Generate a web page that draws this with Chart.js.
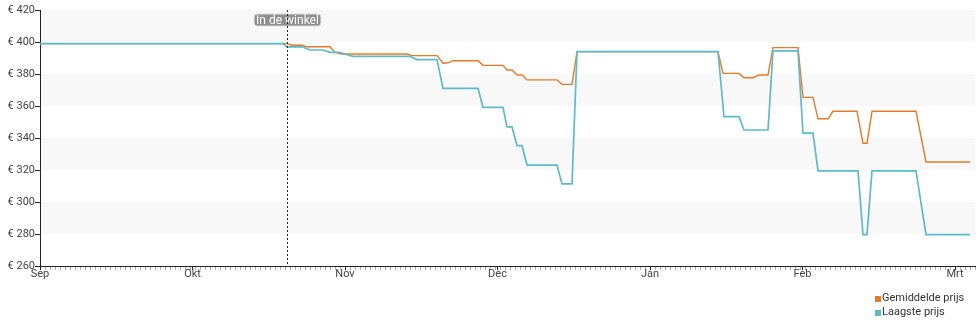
<!DOCTYPE html>
<html>
<head>
<meta charset="utf-8">
<script src="https://cdn.jsdelivr.net/npm/chart.js@4/dist/chart.umd.min.js"></script>
<style>
  html, body { margin: 0; padding: 0; background: #fff; }
  #wrap { position: relative; width: 980px; height: 325px; }
  #legend { position: absolute; left: 875px; top: 291px; font: 11px Roboto, sans-serif; color: #333; line-height: 13.5px; }
  #legend div { white-space: nowrap; }
  #legend span.box { display: inline-block; width: 6px; height: 6px; margin-right: 1px; vertical-align: -1px; }
</style>
</head>
<body>
<div id="wrap">
  <canvas id="c" width="980" height="325"></canvas>
  <div id="legend"></div>
</div>
<script>
// ---- data (x = days since 1 Sep, equal-width months of 30.5 days) ----
const monthTicks  = [0, 30.5, 61, 91.5, 122, 152.5, 183];
const monthLabels = ['Sep', 'Okt', 'Nov', 'Dec', 'Jan', 'Feb', 'Mrt'];
const priceTicks  = [260, 280, 300, 320, 340, 360, 380, 400, 420];

const avgDays   = [0, 49.4, 50.4, 52.4, 53.4, 58, 59, 60.4, 73.4, 74.4, 79.4, 80.6, 81.6, 82.6, 87.6, 88.6, 92.6, 93.4, 94.4, 95.4, 96.4, 97.4, 103.4, 104.4, 106.4, 107.4, 135.6, 136.6, 139.8, 140.8, 142.6, 143.8, 145.6, 146.6, 151.6, 152.6, 154.6, 155.6, 157.6, 158.6, 163.4, 164.6, 165.4, 166.4, 175.2, 177.2, 186];
const avgPrices = [399, 399, 398, 398, 397, 397, 393.5, 392.5, 392.5, 391.5, 391.5, 386.7, 387, 388.3, 388.3, 385.4, 385.4, 382.5, 382.5, 379.4, 379.4, 376.3, 376.3, 373.5, 373.5, 394, 394, 380.4, 380.4, 377.7, 377.7, 379.4, 379.4, 396.5, 396.5, 365.4, 365.4, 352, 352, 356.7, 356.7, 336.7, 336.7, 356.7, 356.7, 325, 325];

const lowDays   = [0, 48.6, 49.4, 52.4, 54, 56.6, 58, 60, 61.4, 62.6, 74, 75.4, 79.4, 80.6, 87.6, 88.6, 92.6, 93.4, 94.4, 95.4, 96.4, 97.4, 103.4, 104.4, 106.4, 107.4, 135.6, 136.8, 139.8, 140.8, 145.6, 146.6, 151.6, 152.6, 154.6, 155.6, 163.6, 164.6, 165.4, 166.4, 175.2, 177.2, 186];
const lowPrices = [399, 399, 397, 397, 395, 395, 393.5, 393.5, 392, 391, 391, 389, 389, 371, 371, 359.2, 359.2, 347, 347, 335.2, 335.2, 323.1, 323.1, 311.3, 311.3, 394, 394, 353.3, 353.3, 345, 345, 394.4, 394.4, 343, 343, 319.4, 319.4, 279.6, 279.6, 319.4, 319.4, 279.6, 279.6];

const storeDay   = 49.4;
const storeLabel = 'In de winkel';
const seriesNames = ['Gemiddelde prijs', 'Laagste prijs'];
const bandRanges = [[400, 420], [360, 380], [320, 340], [280, 300]];

const ORANGE = 'rgb(232,121,41)';
const TEAL = 'rgb(92,188,198)';

const toPts = (xs, ys) => xs.map((x, i) => ({ x: x, y: ys[i] }));

const bandsPlugin = {
  id: 'bands',
  beforeDatasetsDraw(chart) {
    const { ctx, chartArea: a, scales: { y } } = chart;
    ctx.save();
    ctx.fillStyle = '#f8f8f8';
    bandRanges.forEach(([lo, hi]) => {
      const t = y.getPixelForValue(hi), b = y.getPixelForValue(lo);
      ctx.fillRect(a.left + 1, t, a.right - a.left - 1, b - t);
    });
    ctx.restore();
  }
};

const storePlugin = {
  id: 'store',
  afterDatasetsDraw(chart) {
    const { ctx, chartArea: a, scales: { x } } = chart;
    const px = Math.round(x.getPixelForValue(storeDay)) + 0.5;
    ctx.save();
    ctx.font = '12px Roboto, sans-serif';
    const w = ctx.measureText(storeLabel).width + 4;
    const h = 12, top = a.top + 4;
    ctx.fillStyle = 'rgba(130,130,130,0.9)';
    ctx.strokeStyle = '#ddd';
    ctx.lineWidth = 1;
    ctx.beginPath();
    ctx.roundRect(px - w / 2, top, w, h, 3);
    ctx.fill();
    ctx.stroke();
    ctx.fillStyle = '#fff';
    ctx.textAlign = 'center';
    ctx.textBaseline = 'middle';
    ctx.fillText(storeLabel, px, top + h / 2 + 0.5);
    ctx.strokeStyle = '#222';
    ctx.setLineDash([2, 2]);
    ctx.beginPath();
    ctx.moveTo(px, a.top);
    ctx.lineTo(px, a.bottom);
    ctx.stroke();
    ctx.restore();
  }
};

const chart = new Chart(document.getElementById('c'), {
  type: 'line',
  data: {
    datasets: [
      { label: seriesNames[0], data: toPts(avgDays, avgPrices), borderColor: ORANGE, backgroundColor: ORANGE, borderWidth: 1.4, pointRadius: 0, tension: 0, fill: false, order: 1 },
      { label: seriesNames[1], data: toPts(lowDays, lowPrices), borderColor: TEAL, backgroundColor: TEAL, borderWidth: 1.7, pointRadius: 0, tension: 0, fill: false, order: 0 }
    ]
  },
  options: {
    responsive: false,
    animation: false,
    layout: { padding: { left: 0, right: 5, top: 10, bottom: 0 } },
    plugins: { legend: { display: false }, tooltip: { enabled: false } },
    scales: {
      x: {
        type: 'linear', min: 0, max: 187,
        afterBuildTicks(s) {
          const t = [];
          for (let d = 0; d <= 187; d++) t.push(d);
          monthTicks.forEach(v => { if (!t.includes(v)) t.push(v); });
          t.sort((a, b) => a - b);
          s.ticks = t.map(v => ({ value: v }));
        },
        afterFit(s) { s.height = 59; },
        ticks: {
          autoSkip: false, maxRotation: 0, minRotation: 0, padding: -2,
          font: { family: 'Roboto', size: 11 }, color: '#444',
          callback(v) { const i = monthTicks.indexOf(v); return i >= 0 ? monthLabels[i] : ''; }
        },
        grid: {
          drawOnChartArea: false, tickLength: 4,
          tickColor: (c) => (c.tick && monthTicks.includes(c.tick.value)) ? '#222' : '#aaa'
        },
        border: { color: '#222', width: 1 }
      },
      y: {
        min: 260, max: 420,
        afterBuildTicks(s) { s.ticks = priceTicks.map(v => ({ value: v })); },
        afterFit(s) { s.width = 40; },
        ticks: {
          padding: 0, font: { family: 'Roboto', size: 11 }, color: '#444',
          callback: (v) => '€ ' + v
        },
        grid: { drawOnChartArea: false, tickLength: 5, tickColor: '#222' },
        border: { color: '#222', width: 1 }
      }
    }
  },
  plugins: [bandsPlugin, storePlugin]
});

// HTML legend built from the chart's datasets
const leg = document.getElementById('legend');
chart.data.datasets.forEach(ds => {
  const row = document.createElement('div');
  const box = document.createElement('span');
  box.className = 'box';
  box.style.background = ds.borderColor;
  row.appendChild(box);
  row.appendChild(document.createTextNode(ds.label));
  leg.appendChild(row);
});
</script>
</body>
</html>
